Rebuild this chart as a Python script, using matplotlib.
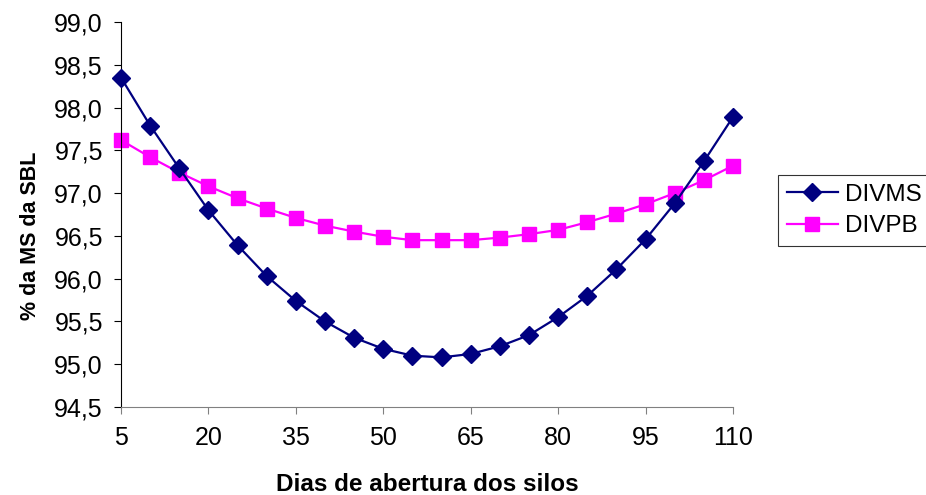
import matplotlib
matplotlib.use('Agg')
import matplotlib.pyplot as plt
from matplotlib.ticker import FuncFormatter, MultipleLocator

plt.rcParams['font.family'] = ['Liberation Sans', 'DejaVu Sans']

# dias de abertura dos silos
dias = [5, 10, 15, 20, 25, 30, 35, 40, 45, 50, 55,
        60, 65, 70, 75, 80, 85, 90, 95, 100, 105, 110]

divms = [98.35, 97.79, 97.29, 96.80, 96.39, 96.03, 95.74, 95.50, 95.31, 95.18, 95.10,
         95.08, 95.12, 95.21, 95.34, 95.55, 95.80, 96.11, 96.46, 96.88, 97.37, 97.89]
divpb = [97.62, 97.42, 97.24, 97.08, 96.94, 96.82, 96.71, 96.62, 96.55, 96.49, 96.45,
         96.45, 96.45, 96.48, 96.52, 96.57, 96.66, 96.76, 96.87, 97.00, 97.15, 97.32]

xticks = [5, 20, 35, 50, 65, 80, 95, 110]

fig = plt.figure(figsize=(9.26, 4.95), dpi=100)
ax = fig.add_axes([121 / 926, 1 - 407 / 495, 612 / 926, 385 / 495])

ax.plot(dias, divms, color='#000080', lw=1.6, marker='D', ms=9,
        label='DIVMS', clip_on=False, zorder=3)
ax.plot(dias, divpb, color='#FF00FF', lw=1.6, marker='s', ms=10,
        label='DIVPB', clip_on=False, zorder=2)

ax.set_xlim(5, 110)
ax.set_ylim(94.5, 99.0)
ax.set_xticks(xticks)
ax.yaxis.set_major_locator(MultipleLocator(0.5))
ax.yaxis.set_major_formatter(FuncFormatter(lambda v, p: f'{v:.1f}'.replace('.', ',')))

for s in ['top', 'right']:
    ax.spines[s].set_visible(False)
ax.spines['left'].set_color('black')
ax.spines['bottom'].set_color('#808080')
ax.tick_params(axis='both', direction='out', length=5, labelsize=18)
ax.tick_params(axis='y', pad=8, colors='black')
ax.tick_params(axis='x', pad=9, color='#808080', labelcolor='black')

ax.set_xlabel('Dias de abertura dos silos', fontsize=17.5, fontweight='bold', labelpad=16)
ax.set_ylabel('% da MS da SBL', fontsize=15.5, fontweight='bold')
ax.yaxis.set_label_coords(-0.130, 0.445)

leg = ax.legend(loc='upper left', bbox_to_anchor=(778 / 926, 1 - 175 / 495),
                bbox_transform=fig.transFigure, fontsize=17.5, frameon=True,
                fancybox=False, edgecolor='black', handlelength=2.1,
                borderaxespad=0, labelspacing=0.4, handletextpad=0.3,
                borderpad=0.35)
leg.get_frame().set_linewidth(0.8)

fig.savefig('out.png', dpi=100)
